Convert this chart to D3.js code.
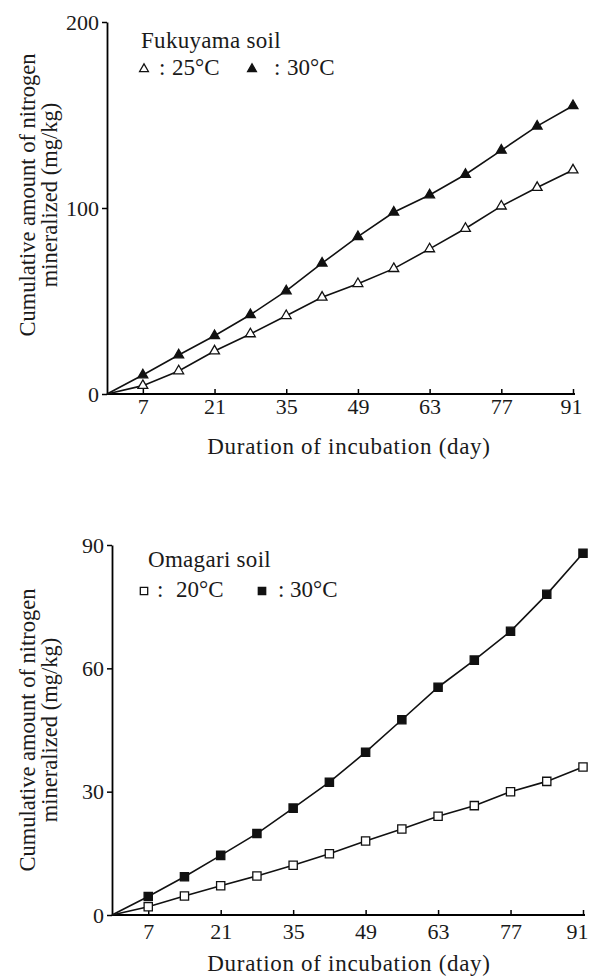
<!DOCTYPE html>
<html>
<head>
<meta charset="utf-8">
<script src="https://cdn.jsdelivr.net/npm/d3@7"></script>
<style>
  body { margin: 0; background: #fff; }
  text { font-family: "Liberation Serif", "DejaVu Serif", serif; fill: #1a1a1a; }
</style>
</head>
<body>
<div id="chart"></div>
<script>
const days = [0, 7, 14, 21, 28, 35, 42, 49, 56, 63, 70, 77, 84, 91];
const xTicks = [7, 21, 35, 49, 63, 77, 91];

// Fukuyama soil
const fuku25 = [0, 4.5, 12.4, 23.1, 32.3, 42.1, 52, 59.3, 67.4, 78, 89, 101, 111, 120.4];
const fuku30 = [0, 10.2, 21, 31.3, 42.6, 55.4, 70.3, 84.6, 97.7, 107, 118, 131, 144, 155];
const fukuTicks = [0, 100, 200];

// Omagari soil
const oma20 = [0, 2, 4.6, 7.1, 9.5, 12.1, 14.9, 18, 20.9, 24, 26.6, 30, 32.5, 36];
const oma30 = [0, 4.5, 9.3, 14.5, 19.8, 26, 32.3, 39.6, 47.5, 55.4, 62, 69, 78, 88];
const omaTicks = [0, 30, 60, 90];

const svg = d3.select("#chart").append("svg")
    .attr("width", 592)
    .attr("height", 978);

function drawPanel(p) {
    const x = d3.scaleLinear().domain([0, 91]).range([p.left, p.right]);
    const y = d3.scaleLinear().domain([0, p.yMax]).range([p.bottom, p.top]);
    const g = svg.append("g");

    // y axis, ticks to the left
    g.append("g")
        .attr("transform", `translate(${p.left},0)`)
        .call(d3.axisLeft(y).tickValues(p.yTicks).tickSize(5).tickPadding(3).tickSizeOuter(0))
        .call(a => a.select(".domain").attr("stroke-width", 1.8))
        .call(a => a.selectAll(".tick line").attr("stroke-width", 1.5))
        .call(a => a.selectAll("text").attr("font-size", 22).attr("font-family", "Liberation Serif"));

    // x axis, ticks pointing up
    g.append("g")
        .attr("transform", `translate(0,${p.bottom})`)
        .call(d3.axisBottom(x).tickValues(xTicks).tickSize(-5).tickPadding(p.xPad).tickSizeOuter(0))
        .call(a => a.select(".domain").attr("stroke-width", 1.8).attr("d", `M${p.left},0H${p.right + 2}`))
        .call(a => a.selectAll(".tick line").attr("stroke-width", 1.5))
        .call(a => a.selectAll("text").attr("font-size", 22).attr("font-family", "Liberation Serif")
            .attr("dx", d => d === 91 ? p.lastDx : 0));

    g.append("text")
        .attr("x", 349)
        .attr("y", p.bottom + p.titleDy)
        .attr("text-anchor", "middle")
        .attr("font-size", 23)
        .attr("letter-spacing", 0.7)
        .text("Duration of incubation  (day)");

    const lab = g.append("g").attr("transform", `translate(35,${p.labY}) rotate(-90)`);
    lab.append("text").attr("text-anchor", "middle").attr("font-size", 22.5)
        .text("Cumulative amount of nitrogen");
    lab.append("text").attr("text-anchor", "middle").attr("font-size", 22.5).attr("y", 22)
        .text("mineralized  (mg/kg)");

    const line = d3.line().x((d, i) => x(days[i])).y(d => y(d));

    p.series.forEach(s => {
        g.append("path")
            .datum(s.values)
            .attr("fill", "none")
            .attr("stroke", "#111")
            .attr("stroke-width", 1.6)
            .attr("d", line);
        g.selectAll(null)
            .data(s.values.slice(1))
            .enter().append("path")
            .attr("transform", (d, i) => `translate(${x(days[i + 1])},${y(d)})`)
            .attr("d", d3.symbol().type(s.symbol).size(s.size))
            .attr("fill", s.filled ? "#111" : "#fff")
            .attr("stroke", "#111")
            .attr("stroke-width", 1.3);
    });

    // legend
    g.append("text").attr("x", p.legX).attr("y", p.legY)
        .attr("font-size", 23).attr("letter-spacing", 0.3).text(p.title);
    p.series.forEach(s => {
        const ly = p.legY + p.legDy;
        g.append("path")
            .attr("transform", `translate(${s.symX},${ly - 6})`)
            .attr("d", d3.symbol().type(s.symbol).size(s.size * 0.8))
            .attr("fill", s.filled ? "#111" : "#fff")
            .attr("stroke", "#111")
            .attr("stroke-width", 1.3);
        g.append("text").attr("x", s.colX).attr("y", ly).attr("font-size", 23).text(":");
        g.append("text").attr("x", s.txtX).attr("y", ly).attr("font-size", 23).text(s.label);
    });
}

drawPanel({
    left: 107, right: 573, top: 22, bottom: 394, yMax: 200, yTicks: fukuTicks,
    xPad: 4, labY: 195, titleDy: 60, lastDx: -2,
    title: "Fukuyama soil", legX: 141, legY: 48, legDy: 27,
    series: [
        { values: fuku25, symbol: d3.symbolTriangle, filled: false, size: 42, label: "25°C",
          symX: 144, colX: 159, txtX: 172 },
        { values: fuku30, symbol: d3.symbolTriangle, filled: true, size: 42, label: "30°C",
          symX: 252, colX: 274, txtX: 287 }
    ]
});

drawPanel({
    left: 112, right: 583, top: 545, bottom: 915, yMax: 90, yTicks: omaTicks,
    xPad: 8, labY: 730, titleDy: 56, lastDx: -6,
    title: "Omagari soil", legX: 148, legY: 567, legDy: 30,
    series: [
        { values: oma20, symbol: d3.symbolSquare, filled: false, size: 68, label: "20°C",
          symX: 144, colX: 157, txtX: 176 },
        { values: oma30, symbol: d3.symbolSquare, filled: true, size: 68, label: "30°C",
          symX: 262, colX: 278, txtX: 290 }
    ]
});
</script>
</body>
</html>
